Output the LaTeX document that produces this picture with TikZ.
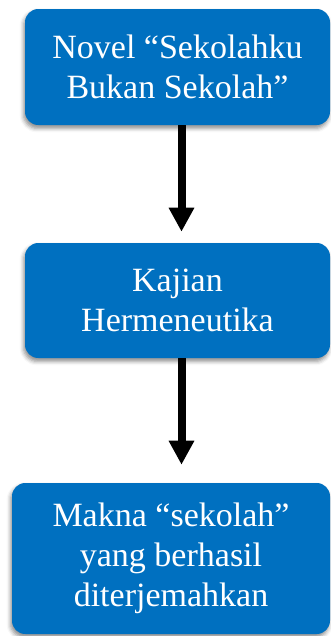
\documentclass[tikz,border=0pt]{standalone}
\usepackage{fontspec}
\setmainfont{Liberation Serif}
\usepackage{xcolor}
\usetikzlibrary{arrows.meta,shadows.blur}

\definecolor{boxblue}{HTML}{0070C0}

\tikzset{
    stage/.style={rectangle, rounded corners=10pt, fill=boxblue, text=white,
        align=center, font=\fontsize{25.5}{30}\selectfont,
        blur shadow={shadow xshift=-1pt, shadow yshift=-2.5pt, shadow blur radius=3pt, shadow opacity=45}},
    flow/.style={line width=6pt, -{Triangle[width=18pt,length=18pt]}}
}

\begin{document}
\begin{tikzpicture}[x=0.75pt,y=-0.75pt]
    \useasboundingbox (0,0) rectangle (330,636);

    % Draw stages
    \node[stage, minimum width=228.75pt, minimum height=87pt] (novel) at (177.5,67)
        {Novel “Sekolahku\\Bukan Sekolah”};
    \node[stage, minimum width=228.75pt, minimum height=86.25pt] (kajian) at (177.5,300.5)
        {Kajian\\Hermeneutika};
    \node[stage, minimum width=238.5pt, minimum height=113.25pt] (makna) at (171,558.5)
        {Makna “sekolah”\\yang berhasil\\diterjemahkan};

    % Draw arrows
    \draw[flow, shorten >=8.25pt] ([xshift=3pt]novel.south) -- ([xshift=3pt]kajian.north);
    \draw[flow, shorten >=13.5pt] ([xshift=3pt]kajian.south) -- ([xshift=3pt]kajian.south |- makna.north);
\end{tikzpicture}
\end{document}
